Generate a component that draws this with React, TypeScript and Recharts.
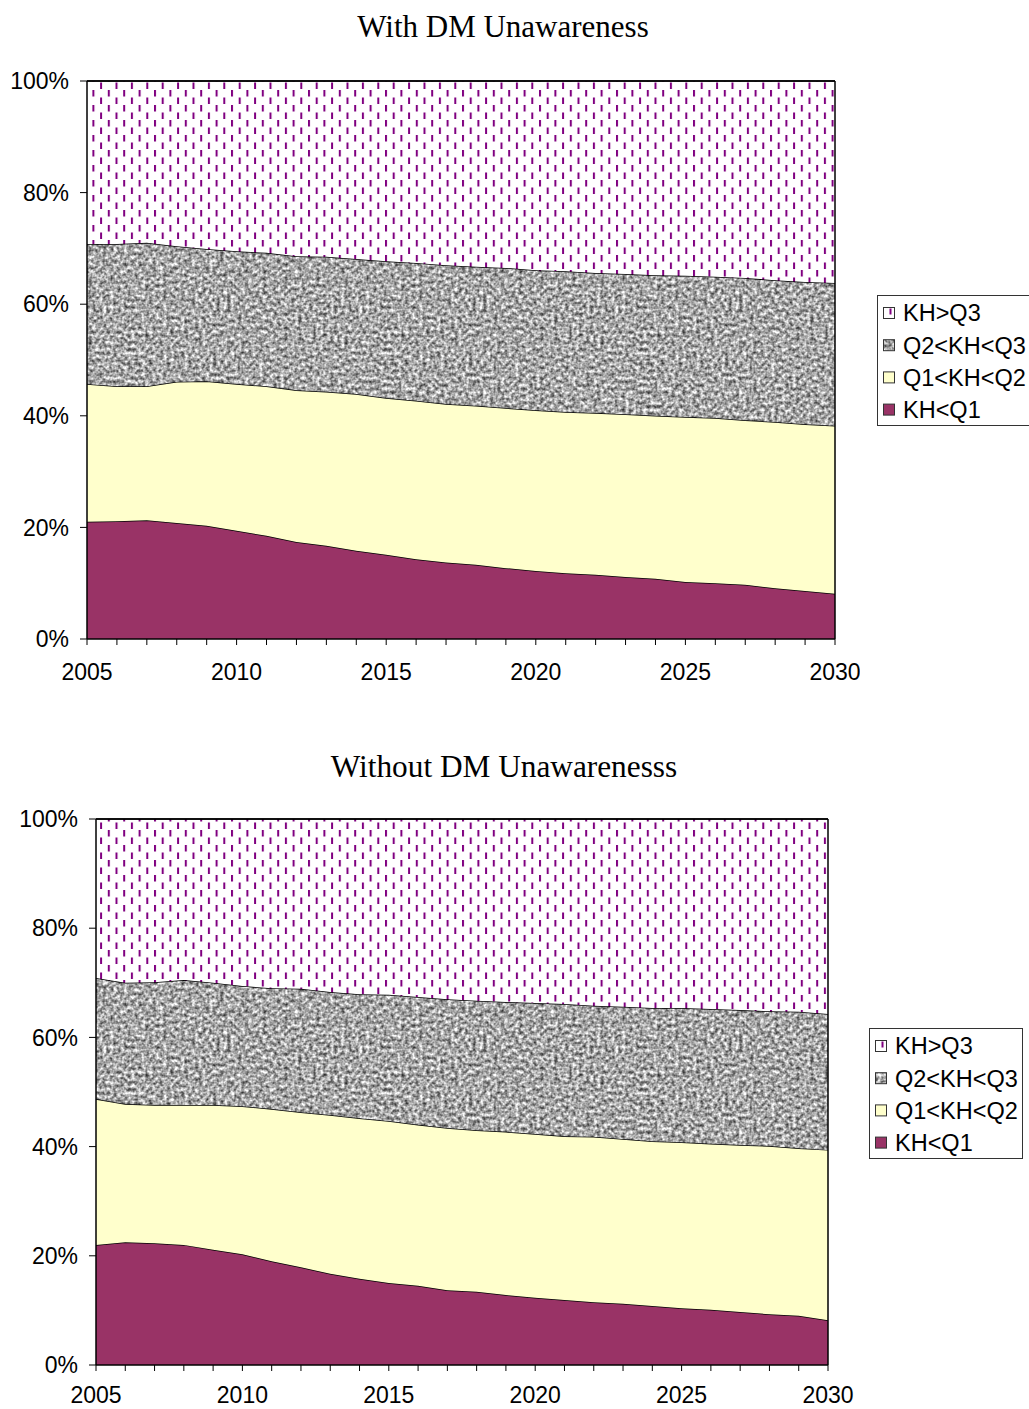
import React from 'react';
import { AreaChart, Area, XAxis, YAxis, ReferenceLine } from 'recharts';

const years = [2005, 2006, 2007, 2008, 2009, 2010, 2011, 2012, 2013, 2014, 2015, 2016, 2017, 2018, 2019, 2020, 2021, 2022, 2023, 2024, 2025, 2026, 2027, 2028, 2029, 2030];
const xLabelYears = [2005, 2010, 2015, 2020, 2025, 2030];
const yTicks = [0, 20, 40, 60, 80, 100];
const seriesNames = ['KH<Q1', 'Q1<KH<Q2', 'Q2<KH<Q3', 'KH>Q3'];

// With DM Unawareness (percent shares)
const withQ1 = [21.0, 21.1, 21.3, 20.8, 20.3, 19.4, 18.5, 17.4, 16.7, 15.8, 15.1, 14.3, 13.7, 13.3, 12.7, 12.2, 11.8, 11.5, 11.1, 10.8, 10.2, 10.0, 9.7, 9.1, 8.6, 8.1];
const withQ1Q2 = [24.7, 24.2, 24.0, 25.3, 25.9, 26.3, 26.8, 27.2, 27.6, 28.1, 28.1, 28.4, 28.4, 28.5, 28.7, 28.8, 28.9, 29.0, 29.2, 29.2, 29.6, 29.6, 29.5, 29.8, 29.9, 30.1];
const withQ2Q3 = [25.1, 25.5, 25.7, 24.3, 23.7, 23.8, 23.9, 24.0, 24.2, 24.2, 24.5, 24.7, 24.9, 24.9, 25.1, 25.1, 25.2, 25.1, 25.1, 25.2, 25.3, 25.3, 25.5, 25.4, 25.5, 25.6];
const withQ3 = [29.2, 29.2, 29.0, 29.6, 30.1, 30.5, 30.8, 31.4, 31.5, 31.9, 32.3, 32.6, 33.0, 33.3, 33.5, 33.9, 34.1, 34.4, 34.6, 34.8, 34.9, 35.1, 35.3, 35.7, 36.0, 36.2];

// Without DM Unawareness (percent shares)
const withoutQ1 = [22.0, 22.5, 22.3, 22.0, 21.1, 20.3, 19.0, 17.9, 16.7, 15.8, 15.0, 14.5, 13.7, 13.4, 12.8, 12.3, 11.9, 11.5, 11.2, 10.8, 10.4, 10.1, 9.7, 9.3, 9.0, 8.2];
const withoutQ1Q2 = [26.7, 25.3, 25.3, 25.6, 26.5, 27.1, 27.9, 28.4, 29.1, 29.4, 29.7, 29.5, 29.7, 29.6, 29.9, 30.0, 30.0, 30.3, 30.2, 30.2, 30.4, 30.4, 30.6, 30.8, 30.7, 31.2];
const withoutQ2Q3 = [22.2, 22.2, 22.5, 22.9, 22.4, 22.0, 22.1, 22.6, 22.5, 22.7, 23.1, 23.4, 23.6, 23.7, 23.8, 24.0, 24.2, 24.0, 24.2, 24.4, 24.6, 24.7, 24.7, 24.7, 25.0, 24.9];
const withoutQ3 = [29.1, 30.0, 29.9, 29.5, 30.0, 30.6, 31.0, 31.1, 31.7, 32.1, 32.2, 32.6, 33.0, 33.3, 33.5, 33.7, 33.9, 34.2, 34.4, 34.6, 34.6, 34.8, 35.0, 35.2, 35.3, 35.7];

const buildRows = (a: number[], b: number[], c: number[], d: number[]) =>
  years.map((year, i) => ({ year, a: a[i], b: b[i], c: c[i], d: d[i] }));

const topRows = buildRows(withQ1, withQ1Q2, withQ2Q3, withQ3);
const bottomRows = buildRows(withoutQ1, withoutQ1Q2, withoutQ2Q3, withoutQ3);

const SANS = '"Liberation Sans", Arial, sans-serif';
const SERIF = '"Liberation Serif", "Times New Roman", serif';
const MAROON = '#993366';
const CREAM = '#FFFFCC';
const PURPLE = '#800080';
const NOISE_MATRIX = '1.25 0 0 0 0.03  1.25 0 0 0 0.03  1.25 0 0 0 0.03  0 0 0 0 1';

const GraniteDefs = ({ id }: { id: string }) => (
  <>
    <filter id={`noise-${id}`} x="0" y="0" width="1" height="1" colorInterpolationFilters="sRGB">
      <feTurbulence type="fractalNoise" baseFrequency="0.28" numOctaves={2} seed={11} stitchTiles="stitch" />
      <feColorMatrix type="matrix" values={NOISE_MATRIX} />
    </filter>
    <pattern id={`granite-${id}`} patternUnits="userSpaceOnUse" width={256} height={256}>
      <rect width={256} height={256} fill="#fff" filter={`url(#noise-${id})`} />
    </pattern>
  </>
);

const Patterns = ({ id }: { id: string }) => (
  <defs>
    <GraniteDefs id={id} />
    <pattern id={`dash-${id}`} patternUnits="userSpaceOnUse" width={15.4} height={15}>
      <rect width={15.4} height={15} fill="#fff" />
      <rect x={0} y={0} width={2} height={6.5} fill={PURPLE} />
      <rect x={7.7} y={7.5} width={2} height={6.5} fill={PURPLE} />
    </pattern>
  </defs>
);

type ChartProps = {
  id: string;
  rows: any[];
  top: number;
  width: number;
  height: number;
  xTickMargin: number;
  margin: { top: number; right: number; bottom: number; left: number };
};

const StackChart = ({ id, rows, top, width, height, xTickMargin, margin }: ChartProps) => (
  <div style={{ position: 'absolute', left: 0, top }}>
    <AreaChart width={width} height={height} data={rows} margin={margin}>
      <Patterns id={id} />
      <XAxis
        dataKey="year"
        type="number"
        domain={[2005, 2030]}
        ticks={years}
        interval={0}
        tickFormatter={(v: number) => (xLabelYears.includes(v) ? String(v) : '')}
        tickSize={6}
        tickMargin={xTickMargin}
        height={30}
        axisLine={{ stroke: '#000', strokeWidth: 1.5 }}
        tickLine={{ stroke: '#000', strokeWidth: 1 }}
        tick={{ fill: '#000', fontSize: 23, fontFamily: SANS }}
      />
      <YAxis
        type="number"
        domain={[0, 100]}
        ticks={yTicks}
        interval={0}
        tickFormatter={(v: number) => `${v}%`}
        width={60}
        tickSize={7}
        tickMargin={11}
        axisLine={{ stroke: '#000', strokeWidth: 1.5 }}
        tickLine={{ stroke: '#000', strokeWidth: 1 }}
        tick={{ fill: '#000', fontSize: 23, fontFamily: SANS }}
      />
      <Area type="linear" dataKey="a" name={seriesNames[0]} stackId="s" fill={MAROON} fillOpacity={1} stroke="#000" strokeWidth={1.5} isAnimationActive={false} />
      <Area type="linear" dataKey="b" name={seriesNames[1]} stackId="s" fill={CREAM} fillOpacity={1} stroke="#000" strokeWidth={1.5} isAnimationActive={false} />
      <Area type="linear" dataKey="c" name={seriesNames[2]} stackId="s" fill={`url(#granite-${id})`} fillOpacity={1} stroke="#000" strokeWidth={1.5} isAnimationActive={false} />
      <Area type="linear" dataKey="d" name={seriesNames[3]} stackId="s" fill={`url(#dash-${id})`} fillOpacity={1} stroke="#000" strokeWidth={1.5} isAnimationActive={false} />
      <ReferenceLine y={100} stroke="#000" strokeWidth={1.5} />
      <ReferenceLine x={2030} stroke="#000" strokeWidth={1.5} />
    </AreaChart>
  </div>
);

const legendLabels = [seriesNames[3], seriesNames[2], seriesNames[1], seriesNames[0]];

const Swatch = ({ x, y, kind }: { x: number; y: number; kind: number }) => {
  const s = 11;
  if (kind === 0) {
    return (
      <g>
        <rect x={x} y={y} width={s} height={s} fill="#fff" stroke="#333" strokeWidth={1} />
        <rect x={x + 6} y={y + 1} width={2} height={6} fill={PURPLE} />
      </g>
    );
  }
  const fill = kind === 1 ? 'url(#granite-leg)' : kind === 2 ? CREAM : MAROON;
  return <rect x={x} y={y} width={s} height={s} fill={fill} stroke="#333" strokeWidth={1} />;
};

const LegendBox = ({ x, y }: { x: number; y: number }) => (
  <g>
    <rect x={x + 0.5} y={y + 0.5} width={153} height={130} fill="#fff" stroke="#333" strokeWidth={1} />
    {legendLabels.map((label, i) => {
      const cy = y + 18 + i * 32.2;
      return (
        <g key={label}>
          <Swatch x={x + 6.5} y={cy - 5.5} kind={i} />
          <text x={x + 26} y={cy + 8.3} fontSize={23.5} fontFamily={SANS} fill="#000">{label}</text>
        </g>
      );
    })}
  </g>
);

export default function App() {
  return (
    <div style={{ position: 'absolute', left: 0, top: 0, width: 1029, height: 1409, overflow: 'hidden', background: '#fff' }}>
      <StackChart id="top" rows={topRows} top={0} width={860} height={700} xTickMargin={19} margin={{ top: 81, right: 25, bottom: 31, left: 27 }} />
      <StackChart id="bot" rows={bottomRows} top={740} width={860} height={669} xTickMargin={16} margin={{ top: 79, right: 32, bottom: 14, left: 36 }} />
      <svg width={1029} height={1409} style={{ position: 'absolute', left: 0, top: 0, pointerEvents: 'none' }}>
        <defs>
          <GraniteDefs id="leg" />
        </defs>
        <text x={503} y={37} textAnchor="middle" fontSize={31} fontFamily={SERIF} fill="#000">With DM Unawareness</text>
        <text x={504} y={777} textAnchor="middle" fontSize={31.3} fontFamily={SERIF} fill="#000">Without DM Unawarenesss</text>
        <LegendBox x={877} y={295} />
        <LegendBox x={869} y={1028} />
      </svg>
    </div>
  );
}
